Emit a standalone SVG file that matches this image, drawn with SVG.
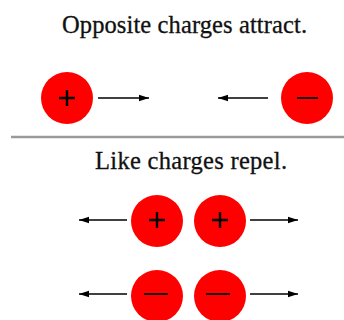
<svg xmlns="http://www.w3.org/2000/svg" width="344" height="320" viewBox="0 0 344 320">
  <style>
    .title { font-family: "Liberation Serif", "Times New Roman", serif; font-size: 24.5px; fill: #111; stroke: #111; stroke-width: 0.3; }
    .charge { fill: #ff0000; }
    .sign { stroke: #000; stroke-width: 2.4; fill: none; }
    .dash { stroke: #000; stroke-width: 1.8; fill: none; }
    .arrow { stroke: #000; stroke-width: 1.5; fill: none; marker-end: url(#head); }
  </style>
  <defs>
    <marker id="head" markerUnits="userSpaceOnUse" markerWidth="12" markerHeight="8" refX="10" refY="4" orient="auto">
      <path d="M0,0.8 L10,4 L0,7.2 Z" fill="#000"/>
    </marker>
  </defs>
  <rect width="344" height="320" fill="#ffffff"/>

  <text class="title" x="184.5" y="33" text-anchor="middle" textLength="245" lengthAdjust="spacing">Opposite charges attract.</text>
  <line x1="11" y1="137" x2="344" y2="137" stroke="#9a9a9a" stroke-width="2.5"/>
  <text class="title" x="191" y="169" text-anchor="middle" textLength="192" lengthAdjust="spacing">Like charges repel.</text>

  <g id="plus-top">
    <circle class="charge" cx="67" cy="98" r="26"/>
    <path class="sign" d="M59,98 H75 M67,90 V106"/>
  </g>
  <g id="minus-top">
    <circle class="charge" cx="307" cy="98" r="26"/>
    <path class="dash" d="M297,98 H318"/>
  </g>
  <g id="plus-left">
    <circle class="charge" cx="157" cy="221" r="26"/>
    <path class="sign" d="M149,220 H165 M157,212 V228"/>
  </g>
  <g id="plus-right">
    <circle class="charge" cx="220" cy="221" r="26"/>
    <path class="sign" d="M212,220 H228 M220,212 V228"/>
  </g>
  <g id="minus-left">
    <circle class="charge" cx="157" cy="296" r="26"/>
    <path class="dash" d="M144,294 H168"/>
  </g>
  <g id="minus-right">
    <circle class="charge" cx="220" cy="296" r="26"/>
    <path class="dash" d="M206,294 H230"/>
  </g>

  <g id="connectors">
    <line class="arrow" x1="98" y1="98" x2="149" y2="98"/>
    <line class="arrow" x1="268" y1="98" x2="218" y2="98"/>
    <line class="arrow" x1="127" y1="220" x2="79" y2="220"/>
    <line class="arrow" x1="250" y1="220" x2="298" y2="220"/>
    <line class="arrow" x1="127" y1="294" x2="79" y2="294"/>
    <line class="arrow" x1="250" y1="294" x2="298" y2="294"/>
  </g>
</svg>
